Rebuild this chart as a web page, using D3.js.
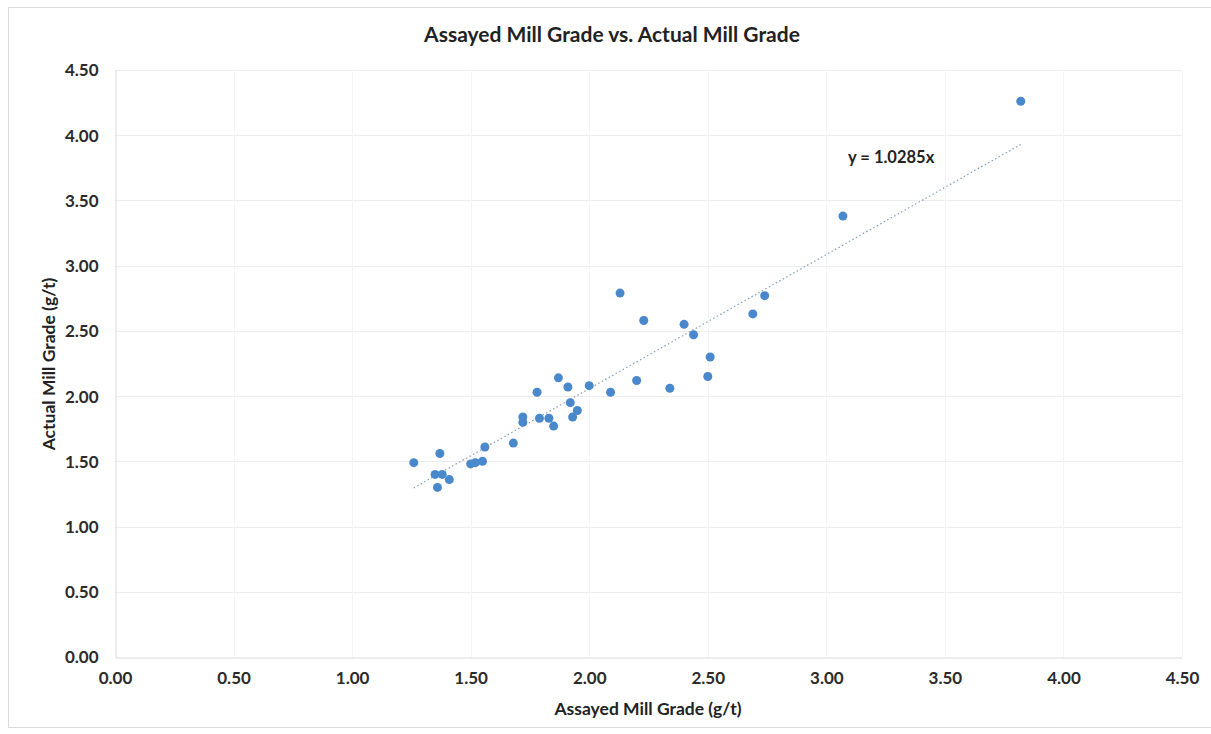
<!DOCTYPE html>
<html>
<head>
<meta charset="utf-8">
<script src="https://cdn.jsdelivr.net/npm/d3@7"></script>
<style>
  html, body { margin: 0; padding: 0; background: #fff; }
  svg { display: block; font-family: Lato, "Open Sans", sans-serif; }
</style>
</head>
<body>
<svg id="chart" width="1211" height="734"></svg>
<script>
// Assayed vs. actual mill grade (g/t), one point per period
const assayed = [1.26, 1.37, 1.35, 1.38, 1.36, 1.41, 1.50, 1.52, 1.55, 1.56, 1.68, 1.72, 1.72,
  1.79, 1.78, 1.83, 1.85, 1.87, 1.91, 1.92, 1.95, 1.93, 2.00, 2.09, 2.20, 2.34, 2.13, 2.23,
  2.40, 2.44, 2.51, 2.50, 2.69, 2.74, 3.07, 3.82];
const actual = [1.49, 1.56, 1.40, 1.40, 1.30, 1.36, 1.48, 1.49, 1.50, 1.61, 1.64, 1.84, 1.80,
  1.83, 2.03, 1.83, 1.77, 2.14, 2.07, 1.95, 1.89, 1.84, 2.08, 2.03, 2.12, 2.06, 2.79, 2.58,
  2.55, 2.47, 2.30, 2.15, 2.63, 2.77, 3.38, 4.26];

// Linear trendline through the origin
const slope = 1.0285;
const trendRange = [1.26, 3.82];

const xTicks = [0, 0.5, 1, 1.5, 2, 2.5, 3, 3.5, 4, 4.5];
const yTicks = [0, 0.5, 1, 1.5, 2, 2.5, 3, 3.5, 4, 4.5];

const titleText = "Assayed Mill Grade vs. Actual Mill Grade";
const xTitle = "Assayed Mill Grade (g/t)";
const yTitle = "Actual Mill Grade (g/t)";
const eqText = "y = 1.0285x";

const svg = d3.select("#chart");
const W = 1211, H = 734;
const plot = { left: 115, right: 1182, top: 70, bottom: 657 };

const x = d3.scaleLinear().domain([0, 4.5]).range([plot.left, plot.right]);
const y = d3.scaleLinear().domain([0, 4.5]).range([plot.bottom, plot.top]);

// Chart frame
svg.append("rect")
  .attr("x", 8.5).attr("y", 7.5).attr("width", W).attr("height", 720)
  .attr("fill", "#fff").attr("stroke", "#d9d9d9");

// Title
svg.append("text")
  .attr("x", 612).attr("y", 42)
  .attr("text-anchor", "middle")
  .attr("font-size", 21).attr("font-weight", 700).attr("fill", "#222")
  .text(titleText);

// Gridlines
const grid = svg.append("g");
grid.selectAll(".hg").data(yTicks.slice(1)).join("line")
  .attr("x1", plot.left).attr("x2", plot.right)
  .attr("y1", d => Math.round(y(d)) + 0.5).attr("y2", d => Math.round(y(d)) + 0.5)
  .attr("stroke", "#ededed");
grid.selectAll(".vg").data(xTicks.slice(1)).join("line")
  .attr("y1", plot.top).attr("y2", plot.bottom)
  .attr("x1", d => Math.round(x(d)) + 0.5).attr("x2", d => Math.round(x(d)) + 0.5)
  .attr("stroke", "#f3f3f3");

// Axes
const xAxis = d3.axisBottom(x).tickValues(xTicks).tickFormat(d3.format(".2f")).tickSize(0).tickPadding(17);
const yAxis = d3.axisLeft(y).tickValues(yTicks).tickFormat(d3.format(".2f")).tickSize(0).tickPadding(17);

const gx = svg.append("g").attr("transform", `translate(0,${plot.bottom + 0.5})`).call(xAxis);
const gy = svg.append("g").attr("transform", `translate(${plot.left + 0.5},0)`).call(yAxis);
[gx, gy].forEach(g => {
  g.select(".domain").attr("stroke", "#d9d9d9");
  g.selectAll("text").attr("font-size", 17).attr("font-weight", 700).attr("fill", "#2b2b2b")
    .attr("font-family", "Lato, sans-serif");
});
gx.selectAll("text").attr("dy", "0.55em");
gy.selectAll("text").attr("dy", "0.35em");

// Axis titles
svg.append("text")
  .attr("x", 648).attr("y", 715)
  .attr("text-anchor", "middle")
  .attr("font-size", 17.5).attr("font-weight", 700).attr("fill", "#222")
  .text(xTitle);
svg.append("text")
  .attr("transform", `translate(55,${364}) rotate(-90)`)
  .attr("text-anchor", "middle")
  .attr("font-size", 17.5).attr("font-weight", 700).attr("fill", "#222")
  .text(yTitle);

// Trendline (dotted)
svg.append("line")
  .attr("x1", x(trendRange[0])).attr("y1", y(slope * trendRange[0]))
  .attr("x2", x(trendRange[1])).attr("y2", y(slope * trendRange[1]))
  .attr("stroke", "#7f9fbf").attr("stroke-width", 1.2)
  .attr("stroke-dasharray", "1.5,2.5");

// Points
const pts = assayed.map((a, i) => ({ a, b: actual[i] }));
svg.append("g").selectAll("circle").data(pts).join("circle")
  .attr("cx", d => x(d.a)).attr("cy", d => y(d.b))
  .attr("r", 4.5)
  .attr("fill", "#4a88cc");

// Trendline equation
svg.append("text")
  .attr("x", 848).attr("y", 163)
  .attr("font-size", 16.5).attr("font-weight", 700).attr("fill", "#222")
  .text(eqText);
</script>
</body>
</html>
